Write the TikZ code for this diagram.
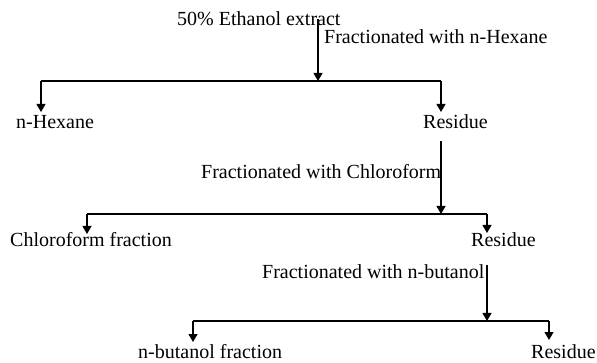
\documentclass[tikz,border=0pt]{standalone}
\usepackage{fontspec}
\setmainfont{Liberation Serif}
\usetikzlibrary{arrows.meta}
\begin{document}
\begin{tikzpicture}[x=1pt,y=-1pt,
  lbl/.style={anchor=base west,inner sep=0pt,font=\fontsize{20}{24}\selectfont},
  conn/.style={line width=1.1pt,draw=black},
  arr/.style={conn,-{Triangle[length=8pt,width=9pt]}}]
\useasboundingbox (0,0) rectangle (597,363);
% texts
\node[lbl] (ext) at (177,26) {50\% Ethanol extract};
\node[lbl] (f1) at (324,44) {Fractionated with n-Hexane};
\node[lbl] (hex) at (16,129) {n-Hexane};
\node[lbl] (res1) at (423,129) {Residue};
\node[lbl] (f2) at (201,179) {Fractionated with Chloroform};
\node[lbl] (chl) at (10,247) {Chloroform fraction};
\node[lbl] (res2) at (471,247) {Residue};
\node[lbl] (f3) at (262,279) {Fractionated with n-butanol};
\node[lbl] (but) at (138,358) {n-butanol fraction};
\node[lbl] (res3) at (531,358) {Residue};
% level 1
\coordinate (j1) at (318,81);
\coordinate (a1) at (41,81);
\coordinate (b1) at (441,81);
\draw[arr] (ext.center -| j1) -- (j1);
\draw[conn] (a1) -- (b1);
\draw[arr] (a1) -- ++(0,31);
\draw[arr] (b1) -- ++(0,31);
% level 2
\coordinate (j2) at (441,214);
\coordinate (a2) at (87,214);
\coordinate (b2) at (487,214);
\draw[arr, shorten <=12pt] (res1.south -| j2) -- (j2);
\draw[conn] (a2) -- (b2);
\draw[arr] (a2) -- ++(0,20);
\draw[arr] (b2) -- ++(0,19);
% level 3
\coordinate (j3) at (487,321);
\coordinate (a3) at (193,321);
\coordinate (b3) at (549,321);
\draw[arr] (f3.north -| j3) -- (j3);
\draw[conn] (a3) -- (b3);
\draw[arr] (a3) -- ++(0,21);
\draw[arr] (b3) -- ++(0,19);
\end{tikzpicture}
\end{document}
